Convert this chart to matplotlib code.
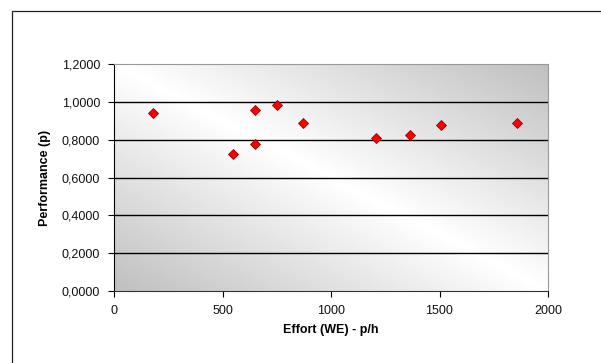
import numpy as np
from matplotlib import pyplot as plt
from matplotlib.patches import Rectangle

#! data
effort = [181, 550, 650, 650, 751, 869, 1206, 1365, 1505, 1856]
performance = [0.939, 0.726, 0.957, 0.779, 0.981, 0.888, 0.807, 0.825, 0.876, 0.888]

x_ticks = [0, 500, 1000, 1500, 2000]
y_ticks = [0.0, 0.2, 0.4, 0.6, 0.8, 1.0, 1.2]
y_tick_labels = ['0,0000', '0,2000', '0,4000', '0,6000', '0,8000', '1,0000', '1,2000']

plt.rcParams['font.family'] = ['Liberation Sans', 'DejaVu Sans']

fig = plt.figure(figsize=(6.01, 3.63), dpi=100)
W, H = 601, 363

# chart frame (cut off at right/bottom)
fig.patches.append(Rectangle((12 / W, -0.1), 1.2, (H - 11) / H + 0.1,
                             transform=fig.transFigure, fill=False,
                             edgecolor='#222222', linewidth=0.9))

ax = fig.add_axes([114 / W, (H - 291) / H, 434 / W, 227 / H])

# diagonal gradient background
u = np.linspace(0, 1, 200)
w = np.linspace(0, 1, 200)
U, V = np.meshgrid(u, w)
g = 1 - 0.25 * np.abs(U - V)
ax.imshow(g, cmap='gray', vmin=0, vmax=1, extent=[0, 2000, 0, 1.2],
          aspect='auto', origin='upper', zorder=0, interpolation='bilinear')

for yv in y_ticks[1:-1]:
    ax.axhline(yv, color='black', linewidth=1.0, zorder=1)

ax.plot(effort, performance, 'D', color='#ff0000', markeredgecolor='#990000',
        markeredgewidth=0.6, markersize=5, zorder=3, clip_on=False)

ax.set_xlim(0, 2000)
ax.set_ylim(0, 1.2)
ax.set_xticks(x_ticks)
ax.set_yticks(y_ticks)
ax.set_yticklabels(y_tick_labels)
ax.tick_params(axis='both', labelsize=9, length=4, width=0.8, direction='out',
               color='black', labelcolor='#111111')
ax.tick_params(axis='y', pad=6)
ax.tick_params(axis='x', pad=6)

ax.spines['left'].set_color('black')
ax.spines['bottom'].set_color('#333333')
ax.spines['top'].set_color('#999999')
ax.spines['right'].set_color('#999999')

ax.set_xlabel('Effort (WE) - p/h', fontsize=9, fontweight='bold', labelpad=5)
ax.set_ylabel('Performance (p)', fontsize=9, fontweight='bold', labelpad=8)

plt.savefig('out.png', dpi=100)
